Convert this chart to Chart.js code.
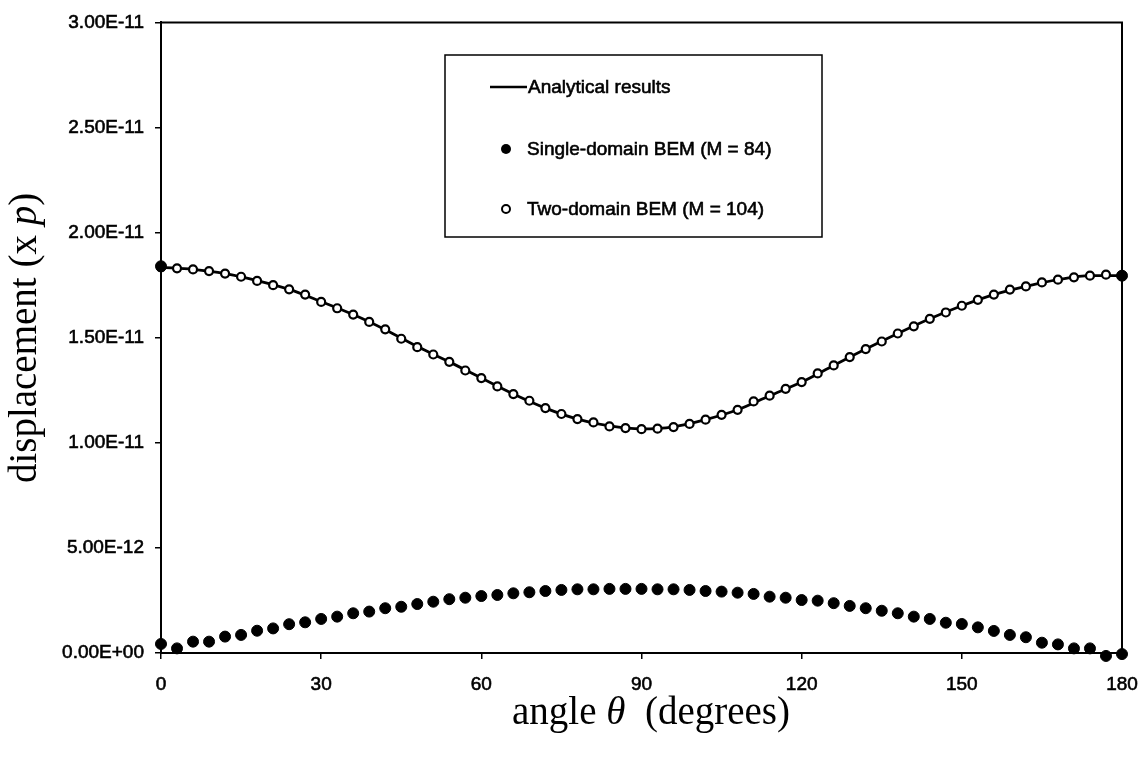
<!DOCTYPE html>
<html>
<head>
<meta charset="utf-8">
<script src="https://cdn.jsdelivr.net/npm/chart.js@4/dist/chart.umd.min.js"></script>
<style>
  html, body { margin: 0; padding: 0; background: #fff; overflow: hidden; }
  #wrap { width: 1147px; height: 762px; position: relative; overflow: hidden; }
  #wrap canvas { display: block; }
</style>
</head>
<body>
<div id="wrap"><canvas id="chart_disp"></canvas></div>
<script>
// angle theta in degrees, one sample every 3 degrees
const angles = [0,3,6,9,12,15,18,21,24,27,30,33,36,39,42,45,48,51,54,57,60,63,66,69,72,75,78,81,84,87,90,
  93,96,99,102,105,108,111,114,117,120,123,126,129,132,135,138,141,144,147,150,153,156,159,162,165,168,171,174,177,180];

// displacement values below are in units of 1e-12 (x p)
const singleDomain = [0.43,0.22,0.54,0.54,0.78,0.86,1.06,1.17,1.37,1.46,1.62,1.73,1.89,1.97,2.13,2.2,2.33,2.44,2.56,2.63,
  2.71,2.76,2.84,2.89,2.95,3.0,3.03,3.03,3.05,3.05,3.05,
  3.03,3.03,3.0,2.95,2.92,2.87,2.81,2.68,2.63,2.52,2.49,2.37,2.24,2.13,2.01,1.89,1.73,1.62,1.44,1.38,1.22,1.05,0.86,0.75,
  0.49,0.41,0.22,0.22,-0.14,-0.05];
// the two extra single-domain points sitting on the upper curve
const singleEndAngles = [0, 180];
const singleEndValues = [18.4, 17.95];

const twoDomain = [18.35,18.3,18.25,18.17,18.05,17.9,17.7,17.5,17.3,17.05,16.7,16.4,16.1,15.75,15.4,14.95,14.55,14.2,13.85,13.44,
  13.08,12.68,12.32,12.0,11.65,11.37,11.13,10.97,10.78,10.7,10.65,
  10.67,10.75,10.9,11.1,11.33,11.57,11.97,12.24,12.57,12.89,13.3,13.68,14.08,14.46,14.82,15.2,15.54,15.9,16.2,16.52,
  16.8,17.05,17.29,17.44,17.63,17.76,17.87,17.95,18.0,17.95];

const analyticAngles = [0,6,12,18,24,30,36,42,48,54,60,66,72,78,84,90,96,102,108,114,120,126,132,138,144,150,156,162,168,174,180];
const analytic = [18.35,18.25,18.05,17.72,17.3,16.72,16.1,15.38,14.58,13.85,13.08,12.32,11.65,11.13,10.8,10.66,
  10.76,11.1,11.57,12.24,12.89,13.68,14.46,15.2,15.9,16.52,17.05,17.44,17.76,17.95,17.95];

const xTicks = [0,30,60,90,120,150,180];
const yTicks = [0, 5e-12, 1e-11, 1.5e-11, 2e-11, 2.5e-11, 3e-11];

const UNIT = 1e-12;
const toPts = (xs, ys) => xs.map((x, i) => ({ x: x, y: ys[i] * UNIT }));

function sciLabel(v) {
  if (Math.abs(v) < 1e-20) return '0.00E+00';
  const parts = v.toExponential(2).split('e');
  const n = parseInt(parts[1], 10);
  return parts[0] + 'E' + (n < 0 ? '-' : '+') + String(Math.abs(n)).padStart(2, '0');
}

const tickFont = { family: 'Liberation Sans, Arial, sans-serif', size: 19 };

// frame on top / right, axis titles and the boxed legend
const decorations = {
  id: 'decorations',
  afterDraw(chart) {
    const ctx = chart.ctx;
    const a = chart.chartArea;
    ctx.save();
    ctx.strokeStyle = '#000';
    ctx.lineWidth = 2;
    ctx.beginPath();
    ctx.moveTo(a.left, a.top);
    ctx.lineTo(a.right, a.top);
    ctx.lineTo(a.right, a.bottom);
    ctx.stroke();

    // x title: angle θ (degrees)
    const serif = 'Liberation Serif, Times New Roman, serif';
    ctx.fillStyle = '#000';
    ctx.textBaseline = 'alphabetic';
    const xParts = [['angle ', 'normal'], ['\u03B8', 'italic'], ['  (degrees)', 'normal']];
    drawParts(ctx, xParts, serif, 39, 651, 724, 0);
    // y title: displacement (x p)
    const yParts = [['displacement (x ', 'normal'], ['p', 'italic'], [')', 'normal']];
    drawParts(ctx, yParts, serif, 39, 24, 338, -Math.PI / 2);

    // legend box
    const lg = { left: 445, top: 55, right: 822, bottom: 237 };
    ctx.lineWidth = 1.5;
    ctx.strokeRect(lg.left, lg.top, lg.right - lg.left, lg.bottom - lg.top);
    ctx.font = '19px ' + tickFont.family;
    ctx.textBaseline = 'middle';
    ctx.textAlign = 'left';
    ctx.lineWidth = 0.6;
    const ds = chart.data.datasets;
    const label = (t, x, y) => { ctx.fillText(t, x, y); ctx.strokeText(t, x, y); };
    label(ds[0].label, 528, 88);
    label(ds[1].label, 527, 150);
    label(ds[2].label, 527, 210);
    // analytical line
    ctx.lineWidth = 2.5;
    ctx.beginPath();
    ctx.moveTo(490, 87); ctx.lineTo(527, 87); ctx.stroke();
    // filled marker
    ctx.beginPath(); ctx.arc(506, 149, 5, 0, Math.PI * 2); ctx.fill();
    // open marker
    ctx.beginPath(); ctx.arc(506, 209, 4, 0, Math.PI * 2);
    ctx.fillStyle = '#fff'; ctx.fill(); ctx.lineWidth = 2; ctx.stroke();
    ctx.restore();
  }
};

function drawParts(ctx, parts, family, size, cx, cy, rot) {
  let total = 0;
  parts.forEach(p => { ctx.font = p[1] + ' ' + size + 'px ' + family; total += ctx.measureText(p[0]).width; });
  ctx.save();
  ctx.translate(cx, cy);
  ctx.rotate(rot);
  ctx.textAlign = 'left';
  let x = -total / 2;
  parts.forEach(p => {
    ctx.font = p[1] + ' ' + size + 'px ' + family;
    ctx.fillText(p[0], x, rot ? size * 0.3 : 0);
    x += ctx.measureText(p[0]).width;
  });
  ctx.restore();
}

const singlePts = toPts(angles, singleDomain).concat(toPts(singleEndAngles, singleEndValues));

new Chart(document.getElementById('chart_disp').getContext('2d'), {
  type: 'scatter',
  data: {
    datasets: [
      {
        label: 'Analytical results',
        data: toPts(analyticAngles, analytic),
        showLine: true,
        borderColor: '#000',
        borderWidth: 2.8,
        pointRadius: 0,
        cubicInterpolationMode: 'monotone',
        order: 2,
        clip: false
      },
      {
        label: 'Single-domain BEM (M = 84)',
        data: singlePts,
        pointRadius: 5.5,
        backgroundColor: '#000',
        borderColor: '#000',
        borderWidth: 1,
        order: 0,
        clip: false
      },
      {
        label: 'Two-domain BEM (M = 104)',
        data: toPts(angles, twoDomain),
        pointRadius: 4,
        backgroundColor: '#fff',
        borderColor: '#000',
        borderWidth: 2.2,
        order: 1,
        clip: false
      }
    ]
  },
  options: {
    responsive: true,
    maintainAspectRatio: false,
    animation: false,
    devicePixelRatio: 1,
    layout: { padding: { top: 20, right: 25, left: 0, bottom: 0 } },
    plugins: { legend: { display: false }, tooltip: { enabled: false } },
    scales: {
      x: {
        type: 'linear',
        min: 0, max: 180,
        afterBuildTicks: s => { s.ticks = xTicks.map(v => ({ value: v })); },
        afterFit: s => { s.height = 109; s.paddingRight = 0; s.paddingLeft = 0; },
        grid: { drawOnChartArea: false, drawTicks: true, tickLength: 6, color: '#000', lineWidth: 1.5 },
        border: { display: true, color: '#000', width: 2 },
        ticks: { color: '#000', font: tickFont, padding: 14, maxRotation: 0, textStrokeColor: '#000', textStrokeWidth: 0.6 }
      },
      y: {
        type: 'linear',
        min: 0, max: 3e-11,
        afterBuildTicks: s => { s.ticks = yTicks.map(v => ({ value: v })); },
        afterFit: s => { s.width = 161; },
        grid: { drawOnChartArea: false, drawTicks: true, tickLength: 6, color: '#000', lineWidth: 1.5 },
        border: { display: true, color: '#000', width: 2 },
        ticks: { color: '#000', font: tickFont, padding: 11, textStrokeColor: '#000', textStrokeWidth: 0.6,
          callback: v => sciLabel(v) }
      }
    }
  },
  plugins: [decorations]
});
</script>
</body>
</html>
